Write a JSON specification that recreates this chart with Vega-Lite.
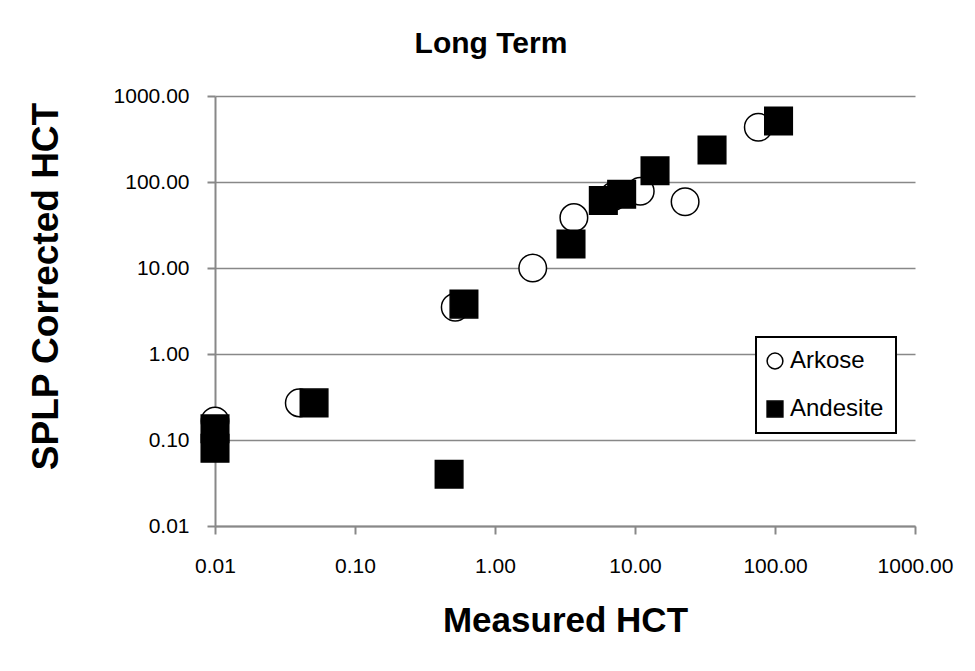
{
  "$schema": "https://vega.github.io/schema/vega-lite/v6.json",
  "width": 700,
  "height": 430,
  "autosize": {"type": "none"},
  "padding": {"left": 215, "top": 96, "right": 60, "bottom": 145},
  "background": "white",
  "title": {
    "text": "Long Term",
    "font": "Liberation Sans",
    "fontSize": 30,
    "fontWeight": "bold",
    "color": "black",
    "anchor": "middle",
    "frame": "group",
    "dx": -74,
    "dy": 37,
    "baseline": "alphabetic",
    "offset": 39
  },
  "data": {
    "values": [
      {"series": "Arkose", "measured": 0.01, "splp": 0.166},
      {"series": "Arkose", "measured": 0.04, "splp": 0.27},
      {"series": "Arkose", "measured": 0.52, "splp": 3.5},
      {"series": "Arkose", "measured": 1.86, "splp": 10},
      {"series": "Arkose", "measured": 3.66, "splp": 38.5},
      {"series": "Arkose", "measured": 7, "splp": 68},
      {"series": "Arkose", "measured": 10.9, "splp": 78},
      {"series": "Arkose", "measured": 22.8, "splp": 59},
      {"series": "Arkose", "measured": 76, "splp": 433},
      {"series": "Andesite", "measured": 0.01, "splp": 0.135},
      {"series": "Andesite", "measured": 0.01, "splp": 0.08},
      {"series": "Andesite", "measured": 0.051, "splp": 0.27},
      {"series": "Andesite", "measured": 0.47, "splp": 0.04},
      {"series": "Andesite", "measured": 0.6, "splp": 3.8},
      {"series": "Andesite", "measured": 3.49, "splp": 19},
      {"series": "Andesite", "measured": 5.94, "splp": 61},
      {"series": "Andesite", "measured": 8.03, "splp": 72},
      {"series": "Andesite", "measured": 13.9, "splp": 135},
      {"series": "Andesite", "measured": 35.5, "splp": 235},
      {"series": "Andesite", "measured": 106, "splp": 512}
    ]
  },
  "mark": {"type": "point", "filled": true, "strokeWidth": 1.5, "opacity": 1, "size": 760},
  "encoding": {
    "x": {
      "field": "measured",
      "type": "quantitative",
      "scale": {"type": "log", "domain": [0.01, 1000], "nice": false},
      "axis": {
        "values": [0.01, 0.1, 1, 10, 100, 1000],
        "format": ".2f",
        "grid": false,
        "domainColor": "#888888",
        "domainWidth": 2,
        "tickColor": "#888888",
        "tickWidth": 2,
        "tickSize": 8,
        "labelFont": "Liberation Sans",
        "labelFontSize": 21,
        "labelColor": "black",
        "labelPadding": 21,
        "labelFlush": false,
        "labelOverlap": false,
        "title": "Measured HCT",
        "titleFont": "Liberation Sans",
        "titleFontSize": 35,
        "titleFontWeight": "bold",
        "titleColor": "black",
        "titleBaseline": "top",
        "titleY": 77
      }
    },
    "y": {
      "field": "splp",
      "type": "quantitative",
      "scale": {"type": "log", "domain": [0.01, 1000], "nice": false},
      "axis": {
        "values": [0.01, 0.1, 1, 10, 100, 1000],
        "format": ".2f",
        "grid": true,
        "gridColor": "#888888",
        "gridWidth": 1.5,
        "domainColor": "#888888",
        "domainWidth": 2,
        "tickColor": "#888888",
        "tickWidth": 2,
        "tickSize": 8,
        "labelFont": "Liberation Sans",
        "labelFontSize": 21,
        "labelColor": "black",
        "labelPadding": 18,
        "labelFlush": false,
        "labelOverlap": false,
        "title": "SPLP Corrected HCT",
        "titleFont": "Liberation Sans",
        "titleFontSize": 37,
        "titleFontWeight": "bold",
        "titleColor": "black",
        "titleAngle": 270,
        "titleAlign": "center",
        "titleBaseline": "alphabetic",
        "titleX": -158,
        "titleY": 190
      }
    },
    "shape": {
      "field": "series",
      "type": "nominal",
      "scale": {"domain": ["Arkose", "Andesite"], "range": ["circle", "square"]},
      "legend": {"title": null}
    },
    "fill": {
      "field": "series",
      "type": "nominal",
      "scale": {"domain": ["Arkose", "Andesite"], "range": ["white", "black"]},
      "legend": {"title": null}
    },
    "stroke": {
      "field": "series",
      "type": "nominal",
      "scale": {"domain": ["Arkose", "Andesite"], "range": ["black", "black"]},
      "legend": {"title": null}
    }
  },
  "config": {
    "view": {"stroke": null},
    "legend": {
      "orient": "none",
      "legendX": 541,
      "legendY": 241,
      "fillColor": "white",
      "strokeColor": "black",
      "strokeWidth": 2,
      "padding": 12,
      "rowPadding": 24,
      "symbolSize": 250,
      "symbolStrokeWidth": 1.5,
      "symbolOffset": -5,
      "labelFont": "Liberation Sans",
      "labelFontSize": 24,
      "labelColor": "black",
      "labelOffset": 3,
      "labelLimit": 300
    }
  }
}
